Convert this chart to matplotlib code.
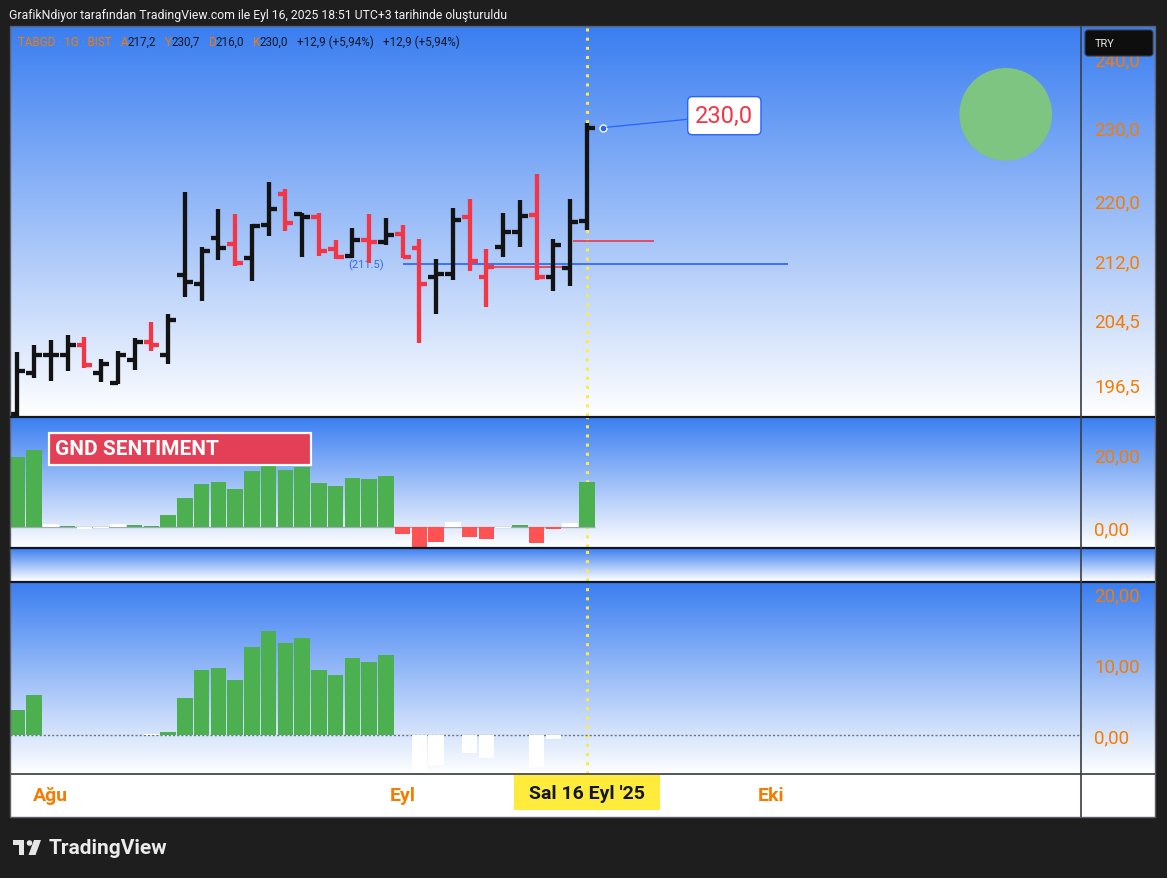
import numpy as np
import pandas as pd
import matplotlib
matplotlib.use('Agg')
import matplotlib.pyplot as plt
from matplotlib.colors import to_rgb
from matplotlib.patches import Rectangle, Circle, FancyBboxPatch, Polygon
from matplotlib.ticker import FixedLocator, NullLocator, FuncFormatter

plt.rcParams['font.family'] = ['Roboto', 'DejaVu Sans']

W, H = 1167, 879

# TABGD daily bars (BIST), 30 Jul - 16 Sep 2025
dates = pd.bdate_range('2025-07-30', '2025-09-16')
opens = [192.9, 197.8, 200.0, 200.0, 201.3, 197.8, 196.7, 199.4, 201.6, 200.1,
         210.1, 209.0, 214.9, 214.1, 212.3, 216.6, 220.8, 218.1, 217.7, 213.5,
         212.6, 214.7, 214.4, 215.5, 213.6, 209.8, 210.2, 217.7, 209.8, 213.7,
         215.7, 218.0, 209.9, 211.0, 217.2]
highs = [200.4, 201.3, 201.9, 202.5, 202.3, 199.6, 200.5, 202.2, 204.1, 205.1,
         221.1, 213.8, 218.8, 218.1, 216.8, 222.4, 221.5, 218.3, 218.2, 214.7,
         216.3, 218.1, 217.6, 216.6, 214.8, 212.2, 218.9, 220.1, 213.5, 218.3,
         220.0, 223.5, 214.8, 220.1, 230.7]
lows = [192.0, 197.2, 196.9, 198.1, 198.5, 196.8, 196.5, 198.2, 200.6, 199.0,
        207.3, 206.8, 212.1, 211.3, 209.4, 215.2, 215.9, 212.5, 212.6, 212.2,
        212.3, 211.7, 214.0, 212.3, 201.5, 205.1, 209.5, 210.6, 206.0, 212.5,
        213.8, 209.5, 208.0, 208.7, 216.0]
closes = [198.1, 200.0, 200.1, 201.3, 198.8, 198.9, 200.1, 201.6, 201.3, 204.4,
          209.2, 213.2, 213.6, 211.7, 216.5, 218.8, 216.9, 217.7, 213.2, 212.4,
          214.7, 214.4, 215.3, 212.5, 208.9, 210.2, 217.3, 211.9, 211.2, 215.7,
          217.8, 209.9, 214.0, 217.1, 230.0]

# GND SENTIMENT pane (g = green, r = red, w = white)
sent_top = [19.4, 21.3, 0.7, 0.3, -0.5, -0.4, 0.7, 0.5, 0.3, 3.3,
            8.0, 11.9, 12.4, 10.5, 15.4, 17.4, 15.7, 16.6, 12.1, 11.3,
            13.5, 13.2, 14.1, -1.9, -6.0, -4.1, 1.4, -2.8, -3.3, -0.4,
            0.5, -4.4, -0.6, 1.1, 12.4]
sent_top_state = 'ggwgwwwggggggggggggggggrrrwrrwgrrwg'

# lower pane
sent_bot = [3.6, 5.6, 0, 0, 0, 0, 0, 0, 0.15, 0.4,
            5.3, 9.1, 9.5, 7.7, 12.4, 14.7, 12.9, 13.6, 9.2, 8.4,
            10.8, 10.3, 11.3, 0, -5.6, -4.2, 0, -2.5, -3.2, 0,
            0, -4.4, -0.6, 0, 0]
sent_bot_state = 'ggwwwwwwwggggggggggggggwwwwwwwwwwww'

price_ticks = [196.5, 204.5, 212.0, 220.0, 230.0, 240.0]
top_ticks = [0, 20]
bot_ticks = [0, 10, 20]

month_starts = ['2025-08-01', '2025-09-01', '2025-10-01']
month_names = ['Ağu', 'Eyl', 'Eki']
cursor_label = "Sal 16 Eyl '25"

# drawn horizontal levels: price, from bar, to bar
level_prices = [211.5, 211.2, 214.6]
level_from = [23, 28.2, 33.15]
level_to = [46, 32.6, 38.0]
level_colors = ['#2962ff', '#f23645', '#f23645']

ORANGE = '#f57c00'
UP, DOWN = '#131313', '#f23645'
HIST = {'g': '#4caf50', 'r': '#ff5252', 'w': '#ffffff'}
BLUE_TOP = '#3a7ef1'


def tr(v, d):
    return f'{v:.{d}f}'.replace('.', ',')


def px(x0, y0, x1, y1):
    return [x0 / W, 1 - y1 / H, (x1 - x0) / W, (y1 - y0) / H]


n = len(closes)
x = np.arange(n)
XMIN = -(17.4 - 10) / 16.75
XMAX = XMIN + 1071 / 16.75
cur = n - 1

fig = plt.figure(figsize=(W / 100, H / 100), dpi=100)
fig.patch.set_facecolor('#1e1e1e')

# background gradients
bg = fig.add_axes([0, 0, 1, 1])
bg.axis('off')
c0 = np.array(to_rgb(BLUE_TOP))
t = np.linspace(0, 1, 256)[:, None]
grad = (c0 * (1 - t) + np.ones(3) * t)[:, None, :]
for y0, y1 in [(27, 417), (418, 548), (549, 582), (583, 775)]:
    bg.imshow(grad, extent=(10, 1155, y1, y0), aspect='auto', origin='upper')
bg.add_patch(Rectangle((10, 776), 1145, 42, fc='white', ec='none'))
bg.set_xlim(0, W)
bg.set_ylim(H, 0)


def pane(y0, y1):
    a = fig.add_axes(px(10, y0, 1081, y1))
    a.set_facecolor('none')
    a.set_xlim(XMIN, XMAX)
    a.set_xticks([])
    for s in a.spines.values():
        s.set_visible(False)
    a.yaxis.tick_right()
    a.tick_params(axis='y', which='both', length=0, pad=9.5,
                  labelsize=13.5, labelcolor=ORANGE)
    a.axvline(cur, color='#ffeb3b', lw=2.2, ls=(0, (1, 2)), zorder=1)
    return a


# price pane
ax = pane(27, 417)
ax.set_yscale('log')
ax.set_ylim(192.7, 244.8)
ax.yaxis.set_major_locator(FixedLocator(price_ticks))
ax.yaxis.set_minor_locator(NullLocator())
ax.yaxis.set_major_formatter(FuncFormatter(lambda v, p: tr(v, 1)))

up = np.r_[True, np.diff(closes) >= 0]
col = np.where(up, UP, DOWN)
for lp, lf, lt, lc in zip(level_prices, level_from, level_to, level_colors):
    ax.hlines(lp, lf, lt, color=lc, lw=1.2, zorder=2)
ax.text(level_from[0] - 1.1, level_prices[0], f'({level_prices[0]})', ha='right',
        va='center', color='#2f6bf0', fontsize=8)
ax.vlines(x, lows, highs, colors=col, lw=3.1, capstyle='butt', zorder=3)
ax.hlines(opens, x - 0.47, x, colors=col, lw=3.1, capstyle='butt', zorder=3)
ax.hlines(closes, x, x + 0.47, colors=col, lw=3.1, capstyle='butt', zorder=3)

ax.plot(cur + 0.95, closes[-1], 'o', ms=5, mfc='#2962ff', mec='white', mew=1, zorder=5)
ax.annotate(tr(closes[-1], 1), xy=(cur + 0.95, closes[-1]), xytext=(87.5, 8.6),
            textcoords='offset points', ha='center', va='center', fontsize=17,
            color='#f23645', zorder=6,
            bbox=dict(boxstyle='round,pad=0.32,rounding_size=0.2', fc='white',
                      ec='#2962ff', lw=1),
            arrowprops=dict(arrowstyle='-', color='#2962ff', lw=0.9,
                            shrinkA=0, shrinkB=3))

# GND SENTIMENT pane
ax2 = pane(418, 548)
ax2.set_ylim(-5.52, 30.34)
ax2.set_yticks(top_ticks)
ax2.set_yticklabels([tr(v, 2) for v in top_ticks])
ax2.hlines(0, XMIN, cur + 0.5, color='#a3abba', lw=1, zorder=1)
ax2.bar(x, sent_top, width=0.92, color=[HIST[s] for s in sent_top_state], zorder=2)

# empty pane
ax3 = pane(549, 582)
ax3.set_ylim(0, 1)
ax3.set_yticks([])

# lower pane
ax4 = pane(583, 775)
ax4.set_ylim(-5.45, 21.54)
ax4.set_yticks(bot_ticks)
ax4.set_yticklabels([tr(v, 2) for v in bot_ticks])
ax4.axhline(0, color='#6f7380', lw=1, ls=(0, (1.5, 1.5)), zorder=1)
ax4.bar(x, sent_bot, width=0.92, color=[HIST[s] for s in sent_bot_state], zorder=2)

# time axis
axt = fig.add_axes(px(10, 776, 1081, 818))
axt.axis('off')
axt.set_xlim(XMIN, XMAX)
axt.set_ylim(818, 776)
for d, name in zip(month_starts, month_names):
    i = np.busday_count(dates[0].date(), pd.Timestamp(d).date())
    axt.text(i, 796, name, ha='center', va='center', color=ORANGE,
             fontsize=14, fontweight='bold')
half = 73 / 16.75
axt.add_patch(Rectangle((cur - half, 775), 2 * half, 36, fc='#ffeb3b', ec='none',
                        clip_on=False))
axt.text(cur, 794, cursor_label, ha='center', va='center', color='#131722',
         fontsize=14, fontweight='bold')

# overlay: frame, dividers, labels
ov = fig.add_axes([0, 0, 1, 1])
ov.axis('off')
ov.set_xlim(0, W)
ov.set_ylim(H, 0)
ov.add_patch(Rectangle((10, 27), 1145, 791, fill=False, ec='#5d606b', lw=1))
ov.hlines([417.5, 548.5, 582.5], 10, 1155, color='#131722', lw=1.6)
ov.hlines(775.5, 10, 1155, color='#55585f', lw=1.4)
ov.vlines(1081, 27, 818, color='#3a3d45', lw=1.2)

ov.add_patch(Circle((1005.7, 115.3), 46.3, fc='#7ec582', ec='none'))
ov.add_patch(FancyBboxPatch((1085, 31), 68, 26, boxstyle='round,pad=0,rounding_size=3',
                            fc='#0e0e0e', ec='#3c3c3c', lw=0.8))
ov.text(1095, 44, 'TRY', color='#e8e8e8', fontsize=8, va='center')

ov.add_patch(Rectangle((49, 433.5), 262, 32.5, fc='#e34058', ec='white', lw=1.6))
ov.text(55, 450, 'GND SENTIMENT', color='white', fontsize=15, fontweight='bold',
        va='center')

ov.text(9, 15, 'GrafikNdiyor tarafından TradingView.com ile Eyl 16, 2025 18:51 UTC+3 '
        'tarihinde oluşturuldu', color='#f2f2f2', fontsize=8.8, va='center')

chg = closes[-1] - closes[-2]
pct = chg / closes[-2] * 100
chg_s = f'+{tr(chg, 1)} (+{tr(pct, 2)}%)'
legend = [(18.4, 'TABGD · 1G · BIST', ORANGE),
          (121.3, 'A', ORANGE), (128, tr(opens[-1], 1), '#131722'),
          (165.3, 'Y', ORANGE), (172, tr(highs[-1], 1), '#131722'),
          (208.6, 'D', ORANGE), (216, tr(lows[-1], 1), '#131722'),
          (252.6, 'K', ORANGE), (260, tr(closes[-1], 1), '#131722'),
          (296.6, chg_s, '#131722'), (382.7, chg_s, '#131722')]
for lx, s, c in legend:
    ov.text(lx, 42.5, s, color=c, fontsize=8.4, va='center')

# TradingView logo
ov.add_patch(Polygon([(12.7, 841), (24, 841), (24, 856), (18.8, 856), (18.8, 846.5),
                      (12.7, 846.5)], fc='#e6e6e6', ec='none'))
ov.add_patch(Circle((29.5, 844), 2.8, fc='#e6e6e6', ec='none'))
ov.add_patch(Polygon([(34, 841), (41, 841), (35.5, 856), (28.5, 856)],
                     fc='#e6e6e6', ec='none'))
ov.text(48.5, 849, 'TradingView', color='#ececec', fontsize=15, fontweight='bold',
        va='center')

fig.savefig('out.png', dpi=100, facecolor=fig.get_facecolor())
